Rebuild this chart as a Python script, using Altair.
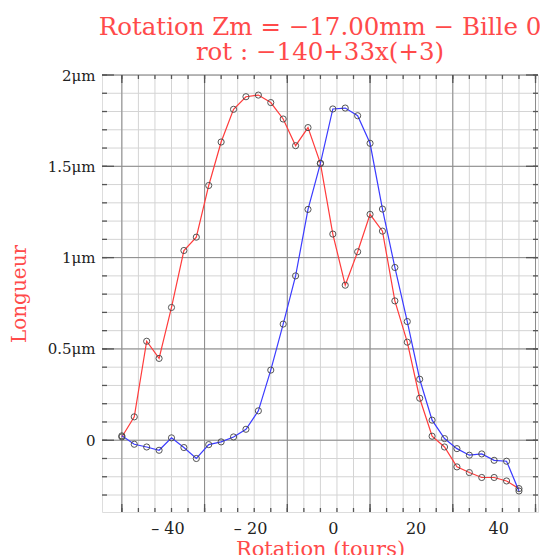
import altair as alt
import pandas as pd

# ---- data ----
rotation = [-51, -48, -45, -42, -39, -36, -33, -30, -27, -24, -21, -18, -15, -12, -9, -6, -3,
            0, 3, 6, 9, 12, 15, 18, 21, 24, 27, 30, 33, 36, 39, 42, 45]
red_um = [0.018, 0.128, 0.542, 0.448, 0.727, 1.039, 1.112, 1.395, 1.633, 1.812, 1.881, 1.890,
          1.849, 1.759, 1.613, 1.712, 1.516, 1.129, 0.849, 1.032, 1.237, 1.145, 0.763, 0.537,
          0.230, 0.022, -0.037, -0.146, -0.177, -0.204, -0.204, -0.223, -0.265]
blue_um = [0.024, -0.022, -0.037, -0.055, 0.013, -0.040, -0.100, -0.024, -0.009, 0.018, 0.060,
           0.161, 0.384, 0.636, 0.900, 1.264, 1.516, 1.814, 1.819, 1.777, 1.626, 1.266, 0.946,
           0.650, 0.334, 0.110, 0.009, -0.046, -0.082, -0.075, -0.110, -0.115, -0.278]

x_tick_labels = [-40, -20, 0, 20, 40]
y_tick_labels = [0, 0.5, 1, 1.5, 2]
grid_x_minor = [-51, -47, -43, -39, -35, -31, -27, -23, -19, -15, -11, -7, -3, 1, 5, 9, 13, 17,
                21, 25, 29, 33, 37, 41, 45, 49]
grid_x_major = [-51, -31, -11, 9, 29, 49]
grid_y_minor = [-0.3, -0.2, -0.1, 0.0, 0.1, 0.2, 0.3, 0.4, 0.5, 0.6, 0.7, 0.8, 0.9, 1.0, 1.1,
                1.2, 1.3, 1.4, 1.5, 1.6, 1.7, 1.8, 1.9, 2.0]
grid_y_major = [0, 0.5, 1, 1.5, 2]

title_lines = ["Rotation Zm = \u221217.00mm \u2212 Bille 0", "rot : \u2212140+33x(+3)"]

RED_TXT = "#ff4a4a"
RED = "#ff3b3b"
BLUE = "#3b3bff"
FONT = "DejaVu Serif"

W, H = 436, 437
xs = alt.Scale(domain=[-55.8, 49.6], nice=False, zero=False)
ys = alt.Scale(domain=[-0.393, 2.0], nice=False, zero=False)

series = pd.DataFrame({
    "rot": rotation * 2,
    "val": red_um + blue_um,
    "s": ["a"] * len(rotation) + ["b"] * len(rotation),
})

x_axis = alt.Axis(values=x_tick_labels, grid=False, ticks=False, domain=False,
                  labelExpr="datum.value < 0 ? '\u2013 ' + (-datum.value) : datum.label",
                  labelFont=FONT, labelFontSize=16, labelColor="#222", labelPadding=8,
                  title="Rotation (tours)", titleFont=FONT, titleFontSize=21,
                  titleFontWeight="normal", titleColor=RED_TXT, titlePadding=2)
y_axis = alt.Axis(values=y_tick_labels, grid=False, ticks=False, domain=False,
                  labelExpr="datum.value == 0 ? '0' : (datum.value + '\u03bcm')",
                  labelFont=FONT, labelFontSize=15, labelColor="#222", labelPadding=7,
                  title="Longueur", titleFont=FONT, titleFontSize=20,
                  titleFontWeight="normal", titleColor=RED_TXT, titlePadding=18)

def X(field):
    return alt.X(field, scale=xs, axis=x_axis)

def Y(field):
    return alt.Y(field, scale=ys, axis=y_axis)

def vrules(vals, color, width):
    return alt.Chart(pd.DataFrame({"v": vals})).mark_rule(color=color, strokeWidth=width).encode(
        x=X("v:Q"))

def hrules(vals, color, width):
    return alt.Chart(pd.DataFrame({"v": vals})).mark_rule(color=color, strokeWidth=width).encode(
        y=Y("v:Q"))

def vticks(vals, y0, y1):
    return alt.Chart(pd.DataFrame({"v": vals})).mark_rule(color="#555", strokeWidth=1.3).encode(
        x=X("v:Q"), y=alt.value(y0), y2=alt.value(y1))

def hticks(vals, x0, x1):
    return alt.Chart(pd.DataFrame({"v": vals})).mark_rule(color="#555", strokeWidth=1.3).encode(
        y=Y("v:Q"), x=alt.value(x0), x2=alt.value(x1))

base = alt.Chart(series)

layers = [
    vrules(grid_x_minor, "#d4d4d4", 1),
    hrules(grid_y_minor, "#d4d4d4", 1),
    vrules(grid_x_major, "#8a8a8a", 1),
    hrules(grid_y_major, "#8a8a8a", 1),
    vticks(grid_x_minor, 0, 4), vticks(grid_x_major, 0, 8),
    vticks(grid_x_minor, H - 4, H), vticks(grid_x_major, H - 8, H),
    hticks(grid_y_minor, 0, 5), hticks(grid_y_major, 0, 12),
    hticks(grid_y_minor, W - 5, W), hticks(grid_y_major, W - 12, W),
]

lines = base.mark_line(strokeWidth=1.2).encode(
    x=X("rot:Q"),
    y=Y("val:Q"),
    color=alt.Color("s:N", scale=alt.Scale(domain=["a", "b"], range=[RED, BLUE]), legend=None),
    order="rot:Q",
)
points = base.mark_point(shape="circle", size=38, filled=False, color="#444",
                         strokeWidth=1, opacity=0.9).encode(
    x=X("rot:Q"),
    y=Y("val:Q"),
)

chart = alt.layer(*layers, lines, points).properties(
    width=W, height=H,
    title=alt.TitleParams(text=title_lines, font=FONT, fontSize=24.5, fontWeight="normal",
                          color=RED_TXT, anchor="middle", frame="group", lineHeight=25,
                          offset=3),
    autosize=alt.AutoSizeParams(type="none"),
    padding={"left": 94, "top": 67, "right": 6, "bottom": 43},
).configure_view(stroke="#555", strokeWidth=1.5).configure(background="white")

chart.save("out.html", embed_options={"renderer": "svg", "actions": False})
